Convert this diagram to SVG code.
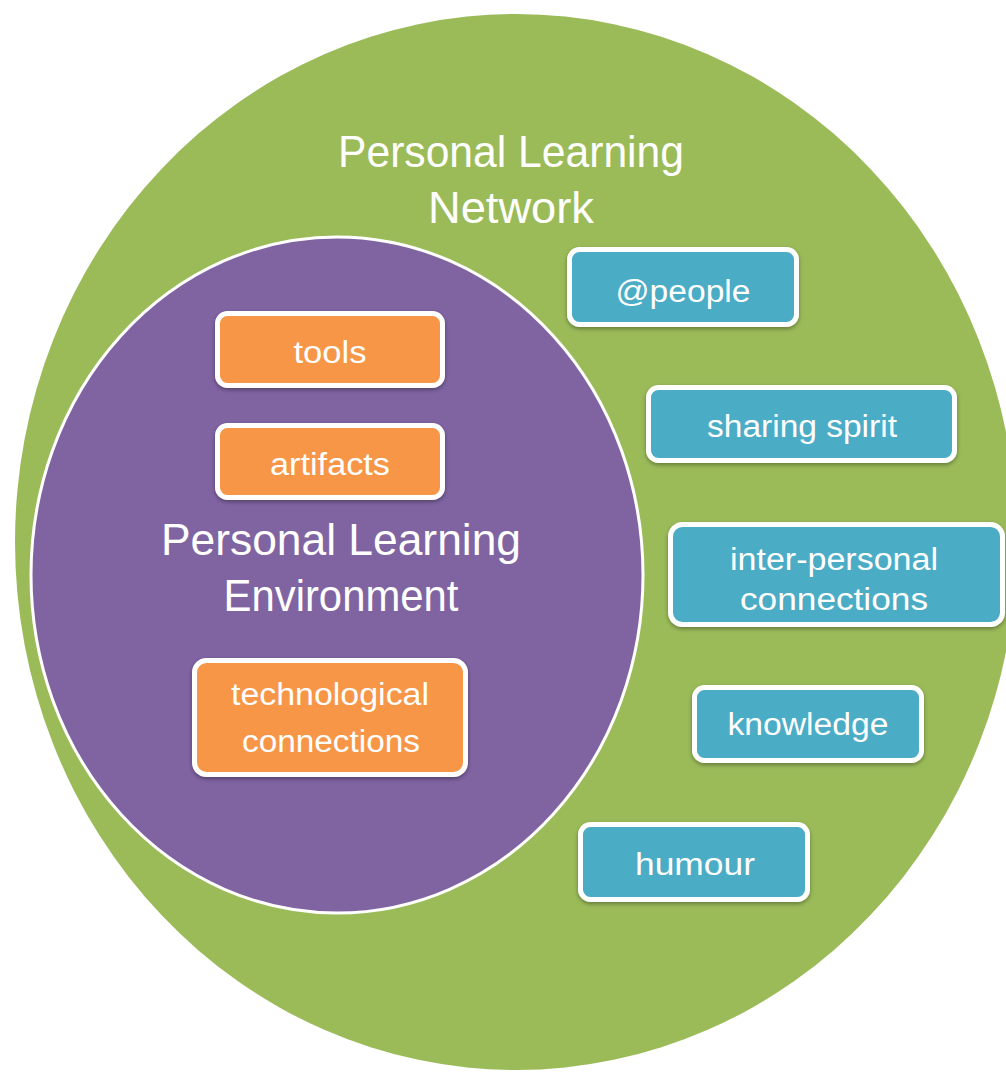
<svg xmlns="http://www.w3.org/2000/svg" width="1006" height="1072" viewBox="0 0 1006 1072">
  <defs>
    <filter id="shadow" x="-10%" y="-20%" width="120%" height="150%">
      <feDropShadow dx="0" dy="2" stdDeviation="2" flood-color="#000" flood-opacity="0.35"/>
    </filter>
  </defs>
  <style>
    .box { stroke: #ffffff; stroke-width: 5; filter: url(#shadow); }
    .orange { fill: #F79646; }
    .blue { fill: #4BACC6; }
    .lbl { font-family: "Liberation Sans", Arial, sans-serif; fill: #ffffff; text-anchor: middle; }
    .small { font-size: 31px; }
    .big { font-size: 44px; }
  </style>
  <rect x="0" y="0" width="1006" height="1072" fill="#ffffff"/>

  <g id="pln">
    <ellipse cx="516" cy="542" rx="501" ry="528" fill="#9BBB59"/>
    <text class="lbl big" x="511" y="167" textLength="346" lengthAdjust="spacingAndGlyphs">Personal Learning</text>
    <text class="lbl big" x="511" y="223" textLength="166" lengthAdjust="spacingAndGlyphs">Network</text>
  </g>

  <g id="ple">
    <ellipse cx="337" cy="575" rx="306" ry="338" fill="#8064A2" stroke="#ffffff" stroke-width="3"/>
    <text class="lbl big" x="341" y="555" textLength="360" lengthAdjust="spacingAndGlyphs">Personal Learning</text>
    <text class="lbl big" x="341" y="611" textLength="235" lengthAdjust="spacingAndGlyphs">Environment</text>
  </g>

  <g id="connectors"></g>

  <g id="tools">
    <rect class="box orange" x="217.5" y="313.5" width="225" height="72" rx="10"/>
    <text class="lbl small" x="330" y="363" textLength="73" lengthAdjust="spacingAndGlyphs">tools</text>
  </g>
  <g id="artifacts">
    <rect class="box orange" x="217.5" y="425.5" width="225" height="72" rx="10"/>
    <text class="lbl small" x="330" y="475" textLength="120" lengthAdjust="spacingAndGlyphs">artifacts</text>
  </g>
  <g id="technological-connections">
    <rect class="box orange" x="194.5" y="660.5" width="271" height="114" rx="12"/>
    <text class="lbl small" x="330" y="705" textLength="198" lengthAdjust="spacingAndGlyphs">technological</text>
    <text class="lbl small" x="331" y="752" textLength="178" lengthAdjust="spacingAndGlyphs">connections</text>
  </g>

  <g id="people">
    <rect class="box blue" x="569.5" y="249.5" width="227" height="75" rx="10"/>
    <text class="lbl small" x="683" y="302" textLength="135" lengthAdjust="spacingAndGlyphs">@people</text>
  </g>
  <g id="sharing-spirit">
    <rect class="box blue" x="648.5" y="387.5" width="306" height="73" rx="10"/>
    <text class="lbl small" x="802" y="437" textLength="190" lengthAdjust="spacingAndGlyphs">sharing spirit</text>
  </g>
  <g id="inter-personal-connections">
    <rect class="box blue" x="670.5" y="524.5" width="332" height="100" rx="12"/>
    <text class="lbl small" x="834" y="570" textLength="208" lengthAdjust="spacingAndGlyphs">inter-personal</text>
    <text class="lbl small" x="834" y="610" textLength="188" lengthAdjust="spacingAndGlyphs">connections</text>
  </g>
  <g id="knowledge">
    <rect class="box blue" x="694.5" y="687.5" width="227" height="73" rx="10"/>
    <text class="lbl small" x="808" y="735" textLength="161" lengthAdjust="spacingAndGlyphs">knowledge</text>
  </g>
  <g id="humour">
    <rect class="box blue" x="580.5" y="824.5" width="227" height="75" rx="10"/>
    <text class="lbl small" x="695" y="875" textLength="120" lengthAdjust="spacingAndGlyphs">humour</text>
  </g>
</svg>
